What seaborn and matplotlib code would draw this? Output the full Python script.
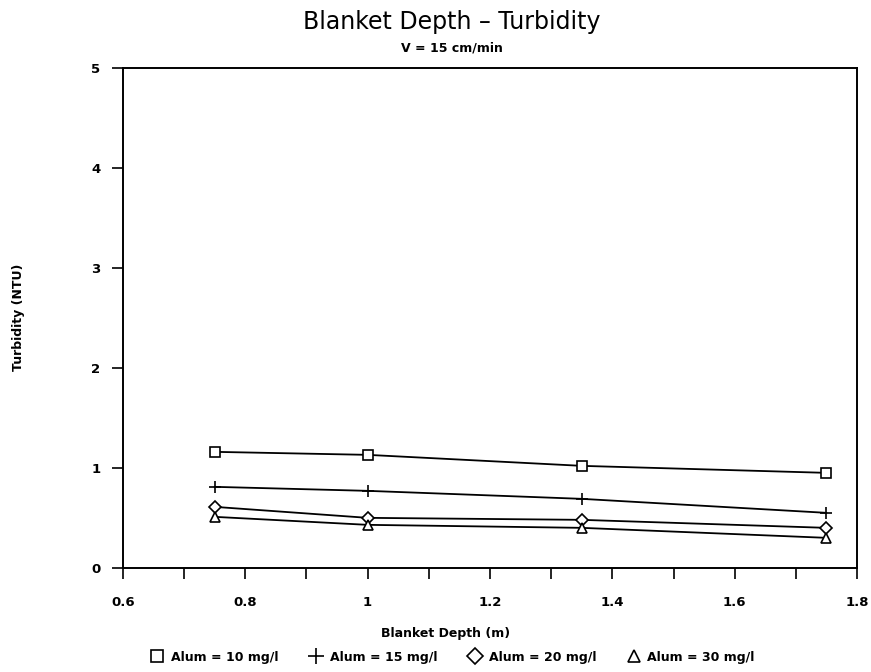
import seaborn as sns
import matplotlib.pyplot as plt
import pandas as pd
from matplotlib.ticker import MultipleLocator
from matplotlib.lines import Line2D

depth = [0.75, 1.0, 1.35, 1.75]
alum_10 = [1.16, 1.13, 1.02, 0.95]
alum_15 = [0.81, 0.77, 0.69, 0.55]
alum_20 = [0.61, 0.50, 0.48, 0.40]
alum_30 = [0.51, 0.43, 0.40, 0.30]
labels = ['Alum = 10 mg/l', 'Alum = 15 mg/l', 'Alum = 20 mg/l', 'Alum = 30 mg/l']
xticks = [0.6, 0.8, 1.0, 1.2, 1.4, 1.6, 1.8]
xtick_labels = ['0.6', '0.8', '1', '1.2', '1.4', '1.6', '1.8']

rows = []
for lab, vals in zip(labels, [alum_10, alum_15, alum_20, alum_30]):
    for d, v in zip(depth, vals):
        rows.append({'depth': d, 'turbidity': v, 'series': lab})
df = pd.DataFrame(rows)

sns.set_style('ticks')
plt.rcParams['font.family'] = ['DejaVu Sans']
plt.rcParams['text.color'] = 'black'
plt.rcParams['xtick.color'] = 'black'
plt.rcParams['ytick.color'] = 'black'

fig = plt.figure(figsize=(8.71, 6.72), dpi=100)
ax = fig.add_axes([0.141, 0.155, 0.843, 0.744])

markers = {labels[0]: 's', labels[1]: '+', labels[2]: 'D', labels[3]: '^'}
sizes = {labels[0]: 7, labels[1]: 9, labels[2]: 6, labels[3]: 7}
for lab in labels:
    sub = df[df['series'] == lab]
    sns.lineplot(data=sub, x='depth', y='turbidity', ax=ax, color='black',
                 linewidth=1.3, marker=markers[lab], markersize=sizes[lab],
                 markerfacecolor='white', markeredgecolor='black',
                 markeredgewidth=1.2, legend=False)

ax.set_xticks(xticks, xtick_labels, fontweight='bold')
ax.xaxis.set_minor_locator(MultipleLocator(0.1))
ax.yaxis.set_major_locator(MultipleLocator(1))
ax.set_xlim(0.6, 1.8)
ax.set_ylim(0, 5)
ax.tick_params(axis='both', which='both', direction='out', length=8, width=1.2,
               labelsize=9.5, colors='black')
ax.tick_params(axis='x', which='major', pad=12)
ax.tick_params(axis='y', which='major', pad=8)
for t in ax.get_yticklabels():
    t.set_fontweight('bold')
for s in ax.spines.values():
    s.set_linewidth(1.4)
    s.set_color('black')
ax.set_xlabel('')
ax.set_ylabel('')

fig.text(0.519, 0.967, 'Blanket Depth \u2013 Turbidity', ha='center', va='center',
         fontsize=17)
fig.text(0.519, 0.928, 'V = 15 cm/min', ha='center', va='center', fontsize=9,
         fontweight='bold')
fig.text(0.021, 0.528, 'Turbidity (NTU)', rotation=90, ha='center', va='center',
         fontsize=9, fontweight='bold')
fig.text(0.511, 0.058, 'Blanket Depth (m)', ha='center', va='center', fontsize=9,
         fontweight='bold')

handles = [Line2D([], [], linestyle='none', marker=markers[l], markersize=sizes[l] + 2,
                  markerfacecolor='white', markeredgecolor='black',
                  markeredgewidth=1.2) for l in labels]
leg = fig.legend(handles, labels, loc='center', bbox_to_anchor=(0.52, 0.022),
                 ncol=4, frameon=False, fontsize=9, handletextpad=0.6,
                 columnspacing=2.5, handlelength=1.0)
for t in leg.get_texts():
    t.set_fontweight('bold')

plt.savefig('out.png', dpi=100)
